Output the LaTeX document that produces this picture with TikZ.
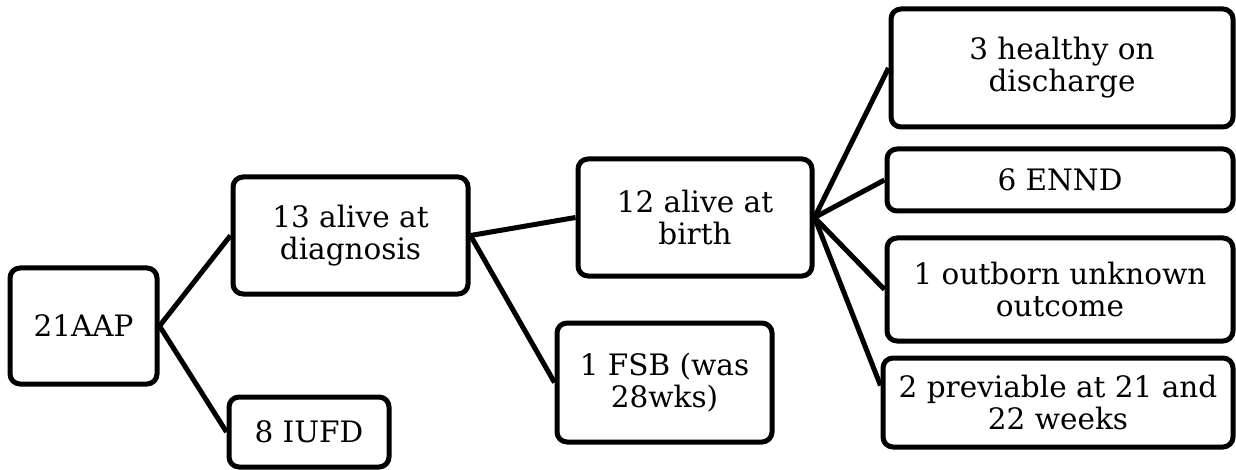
\documentclass[tikz,border=0pt]{standalone}
\usepackage{fontspec}
\setmainfont{DejaVu Serif}
\begin{document}
\begin{tikzpicture}[x=1pt,y=1pt,
  box/.style={draw=black, line width=5pt, rounded corners=10pt, fill=white,
    align=center, inner sep=2pt, font=\fontsize{29.5}{32}\selectfont},
  link/.style={line width=5pt}]
\useasboundingbox (0,0) rectangle (1236,-470);
% root
\node[box, minimum width=147, minimum height=116] (root) at (83.5,-326) {21AAP};
\node[box, minimum width=160, minimum height=70] (iufd) at (309,-432) {8 IUFD};
% second level
\node[box, minimum width=235, minimum height=117] (diag) at (350.5,-235.5) {13 alive at\\diagnosis};
\node[box, minimum width=234, minimum height=117] (birth) at (695,-217.5) {12 alive at\\birth};
\node[box, minimum width=215, minimum height=119] (fsb) at (664.5,-382.5) {1 FSB (was\\28wks)};
% outcomes
\node[box, minimum width=342, minimum height=118] (healthy) at (1062,-68) {3 healthy on\\discharge};
\node[box, minimum width=346, minimum height=62] (ennd) at (1060,-180) {6 ENND};
\node[box, minimum width=346, minimum height=103] (outborn) at (1060,-289.5) {1 outborn unknown\\outcome};
\node[box, minimum width=350, minimum height=89] (previable) at (1058,-402.5) {2 previable at 21 and\\22 weeks};
% connectors
\draw[link] (root.east) -- (diag.west);
\draw[link] (root.east) -- (iufd.west);
\draw[link] (diag.east) -- (birth.west);
\draw[link] (diag.east) -- (fsb.west);
\draw[link] (birth.east) -- (healthy.west);
\draw[link] (birth.east) -- (ennd.west);
\draw[link] (birth.east) -- (outborn.west);
\draw[link] (birth.east) -- ([yshift=17pt]previable.west);
\end{tikzpicture}
\end{document}
